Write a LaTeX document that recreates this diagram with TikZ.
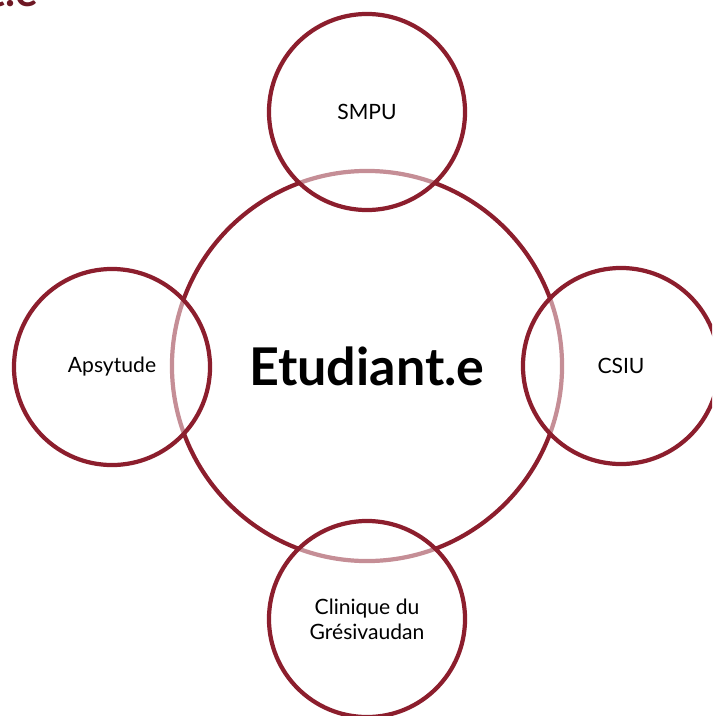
\documentclass[tikz,border=0pt]{standalone}
\usepackage{fontspec}
\setmainfont{Lato}
\usepackage{tikz}

\definecolor{wine}{RGB}{140,30,45}
\definecolor{titlered}{RGB}{110,24,36}

\tikzset{
  bigring/.style={circle,draw=wine,line width=3pt,minimum size=9.75cm,inner sep=0pt},
  smallring/.style={circle,draw=wine,line width=3pt,minimum size=4.9cm,inner sep=0pt,
    fill=white,fill opacity=0.5,text opacity=1,align=center,
    font=\fontsize{15}{18}\selectfont}
}

\begin{document}
\begin{tikzpicture}[x=0.025cm,y=-0.025cm]
\clip (0,0) rectangle (712,716);
\useasboundingbox (0,0) rectangle (712,716);
% centre
\node [bigring,font=\bfseries\fontsize{37}{44}\selectfont] (etud) at (367,366) {Etudiant.e};
% autour
\node [smallring] (smpu) at (367,112) {SMPU};
\node [smallring] (apsy) at (112,367) {Apsytude};
\node [smallring] (csiu) at (621,366) {CSIU};
\node [smallring] (clin) at (367,619) {Clinique du\\Grésivaudan};
% reste du titre
\node [anchor=base east,inner sep=0pt,text=titlered,font=\bfseries\fontsize{30}{36}\selectfont] (titre) at (38,7) {t.e};
\end{tikzpicture}
\end{document}
